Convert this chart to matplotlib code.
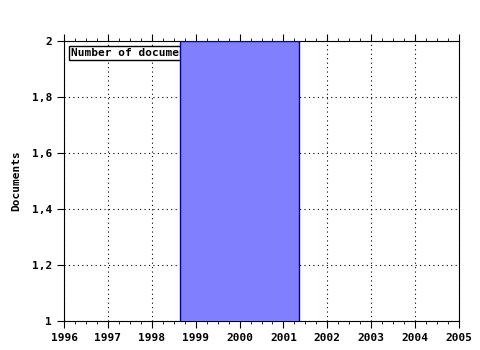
import numpy as np
import matplotlib
matplotlib.use('Agg')
import matplotlib.pyplot as plt
from matplotlib.ticker import MultipleLocator, FuncFormatter

# data
years = [2000]
documents = [2]
year_ticks = list(range(1996, 2006))
doc_ticks = [1, 1.2, 1.4, 1.6, 1.8, 2]

plt.rcParams['font.family'] = 'DejaVu Sans Mono'
plt.rcParams['font.weight'] = 'bold'
plt.rcParams['font.size'] = 8

fig = plt.figure(figsize=(4.8, 3.5), dpi=100)
ax = fig.add_axes([64 / 480, 1 - 321 / 350, (459 - 64) / 480, (321 - 41) / 350])

# legend-like label, drawn under the bar
ax.text(0.018, 0.975, 'Number of documents', transform=ax.transAxes, va='top', ha='left',
        fontsize=8, fontweight='bold', zorder=1,
        bbox=dict(boxstyle='square,pad=0.15', facecolor='white', edgecolor='black', linewidth=1))

ax.bar(years, documents, width=2.71, color='#8080ff', edgecolor='#0000a0', linewidth=1, zorder=3)

ax.set_xlim(1996, 2005)
ax.set_ylim(1, 2)
ax.set_xticks(year_ticks)
ax.set_yticks(doc_ticks)
ax.xaxis.set_minor_locator(MultipleLocator(0.25))
ax.yaxis.set_major_formatter(FuncFormatter(lambda v, p: ('%g' % v).replace('.', ',')))

ax.grid(True, which='major', linestyle=(0, (1, 3)), color='black', linewidth=0.8, zorder=0)
ax.set_axisbelow(True)
ax.tick_params(axis='x', which='both', direction='out', top=True, labeltop=False)
ax.tick_params(axis='x', which='major', length=5)
ax.tick_params(axis='x', which='minor', length=2.5)
ax.tick_params(axis='y', which='major', length=5, right=False)
ax.set_ylabel('Documents', fontweight='bold', labelpad=8)

fig.savefig('out.png', dpi=100)
